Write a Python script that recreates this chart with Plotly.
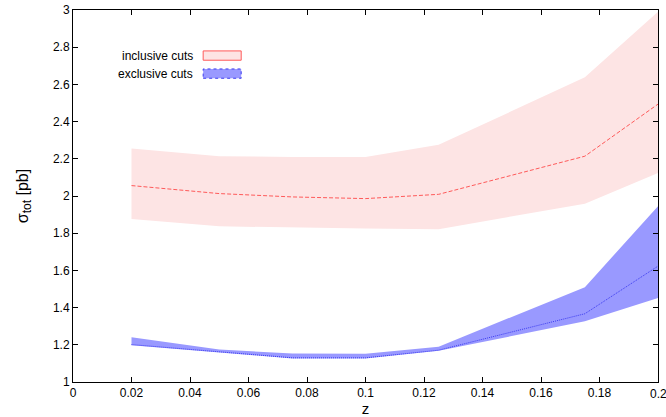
import plotly.graph_objects as go

# z values where the cross section was evaluated
z = [0.02, 0.05, 0.075, 0.1, 0.125, 0.175, 0.2]

# inclusive cuts: central value and scale-variation band [pb]
incl_central = [2.056, 2.013, 1.995, 1.986, 2.009, 2.214, 2.494]
incl_upper = [2.255, 2.214, 2.210, 2.210, 2.275, 2.638, 2.990]
incl_lower = [1.877, 1.837, 1.830, 1.825, 1.821, 1.959, 2.124]

# exclusive cuts: central value and band [pb]
excl_central = [1.201, 1.161, 1.130, 1.130, 1.171, 1.367, 1.623]
excl_upper = [1.240, 1.175, 1.153, 1.152, 1.190, 1.510, 1.945]
excl_lower = [1.198, 1.158, 1.127, 1.127, 1.168, 1.326, 1.451]

x_ticks = [0, 0.02, 0.04, 0.06, 0.08, 0.1, 0.12, 0.14, 0.16, 0.18, 0.2]
x_tick_text = ["0", "0.02", "0.04", "0.06", "0.08", "0.1", "0.12", "0.14", "0.16", "0.18", "0.2"]
y_ticks = [1, 1.2, 1.4, 1.6, 1.8, 2, 2.2, 2.4, 2.6, 2.8, 3]
y_tick_text = ["1", "1.2", "1.4", "1.6", "1.8", "2", "2.2", "2.4", "2.6", "2.8", "3"]

legend_labels = ["inclusive cuts", "exclusive cuts"]

INCL_FILL = "rgb(253,228,228)"
INCL_LINE = "rgb(255,90,90)"
EXCL_FILL = "rgb(153,153,255)"
EXCL_LINE = "rgb(60,60,240)"

FONT = "Liberation Sans, Arial, sans-serif"

fig = go.Figure()

# inclusive band as closed polygon
fig.add_trace(go.Scatter(
    x=z + z[::-1], y=incl_upper + incl_lower[::-1],
    fill="toself", fillcolor=INCL_FILL, line=dict(width=0),
    mode="lines", hoverinfo="skip", showlegend=False,
))
fig.add_trace(go.Scatter(
    x=z, y=incl_central, mode="lines",
    line=dict(color=INCL_LINE, width=1, dash="4px,2px"),
    showlegend=False,
))

# exclusive band
fig.add_trace(go.Scatter(
    x=z + z[::-1], y=excl_upper + excl_lower[::-1],
    fill="toself", fillcolor=EXCL_FILL, line=dict(width=0),
    mode="lines", hoverinfo="skip", showlegend=False,
))
fig.add_trace(go.Scatter(
    x=z, y=excl_central, mode="lines",
    line=dict(color=EXCL_LINE, width=1, dash="1px,1px"),
    showlegend=False,
))

axis_common = dict(
    showgrid=False, zeroline=False, showline=True, linecolor="black",
    linewidth=1, mirror="ticks", ticks="inside", ticklen=5,
    tickcolor="black", tickwidth=1, automargin=False,
    tickfont=dict(family=FONT, size=12, color="black"),
)

fig.update_xaxes(
    range=[0, 0.2], tickvals=x_ticks, ticktext=x_tick_text,
    title=dict(text="z", font=dict(family=FONT, size=15, color="black"), standoff=8),
    **axis_common,
)
fig.update_yaxes(
    range=[1, 3], tickvals=y_ticks, ticktext=y_tick_text,
    title=dict(
        text="σ<sub><span style='font-size:12px'>tot</span></sub> [pb]",
        font=dict(family=FONT, size=16, color="black"), standoff=20,
    ),
    **axis_common,
)

# legend drawn with text on the left and a swatch on the right
legend_y = [0.8775, 0.829]
legend_fill = [INCL_FILL, EXCL_FILL]
legend_edge = [dict(color=INCL_LINE, width=1), dict(color=EXCL_LINE, width=1, dash="dot")]
annotations = []
shapes = []
for label, ly, fc, edge in zip(legend_labels, legend_y, legend_fill, legend_edge):
    annotations.append(dict(
        x=0.209, y=ly, xref="paper", yref="paper", text=label,
        showarrow=False, xanchor="right", yanchor="middle",
        font=dict(family=FONT, size=12, color="black"),
    ))
    shapes.append(dict(
        type="rect", xref="paper", yref="paper",
        x0=0.2225, x1=0.2875, y0=ly - 0.0125, y1=ly + 0.0125,
        fillcolor=fc, line=edge, layer="above",
    ))

# the last tick label sits on the right border and runs off the page edge;
# plotly drops it, so place it as an annotation at the same spot
annotations.append(dict(
    x=x_ticks[-1], xref="x", y=-0.033, yref="paper", text=x_tick_text[-1],
    showarrow=False, xanchor="center", yanchor="middle",
    font=dict(family=FONT, size=12, color="black"),
))

fig.update_layout(
    width=666, height=417,
    margin=dict(l=73, r=8, t=10, b=35),
    plot_bgcolor="white", paper_bgcolor="white",
    showlegend=False,
    annotations=annotations, shapes=shapes,
    font=dict(family=FONT, color="black"),
)

fig.write_html("out.html")
